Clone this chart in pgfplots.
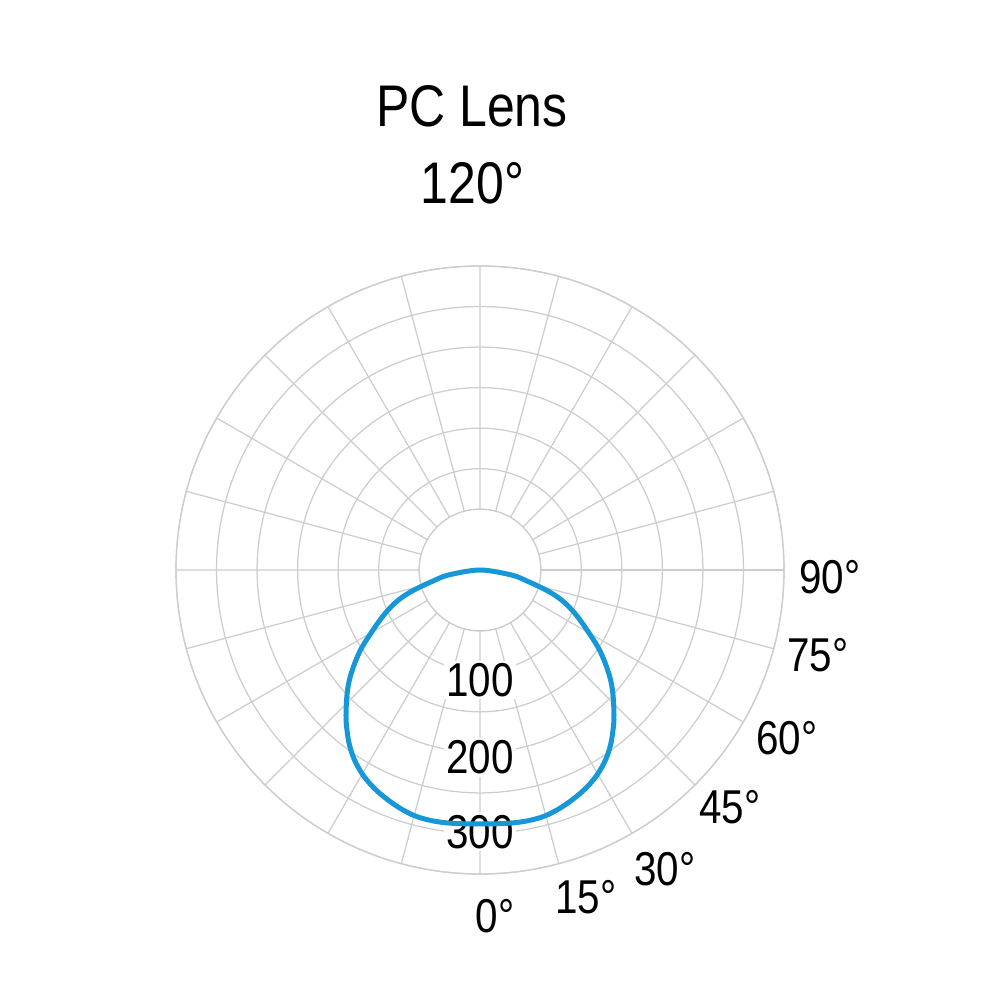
\documentclass[border=0pt]{standalone}
\usepackage{fontspec}
\setmainfont{Liberation Sans}[FakeStretch=0.85]
\usepackage{pgfplots}
\pgfplotsset{compat=1.18}
\usepgfplotslibrary{polar}
\definecolor{gridgray}{RGB}{205,205,205}
\definecolor{curveblue}{RGB}{22,152,216}
\newcommand\ttl{\fontsize{23.5}{28}\selectfont}
\newcommand\lab{\fontsize{19}{23}\selectfont}
% luminous intensity curve, Cartesian form (x to the right, y up), same units as the radial axis
\pgfplotstableread{
x y
0 -313.3
29.6 -312.7
54.3 -310.2
76.5 -304.7
95.0 -296.0
113.5 -283.7
130.8 -268.9
144.3 -252.9
154.8 -234.4
161.0 -215.9
164.1 -197.4
165.3 -178.9
163.4 -148.0
157.9 -124.6
148.0 -99.9
135.7 -79.6
119.6 -56.7
104.8 -40.7
90.0 -29.6
74.0 -21.0
58.0 -13.6
43.2 -7.4
24.7 -3.1
12.3 -1.0
0 0
-12.3 -1.0
-24.7 -3.1
-43.2 -7.4
-58.0 -13.6
-74.0 -21.0
-90.0 -29.6
-104.8 -40.7
-119.6 -56.7
-135.7 -79.6
-148.0 -99.9
-157.9 -124.6
-163.4 -148.0
-165.3 -178.9
-164.1 -197.4
-161.0 -215.9
-154.8 -234.4
-144.3 -252.9
-130.8 -268.9
-113.5 -283.7
-95.0 -296.0
-76.5 -304.7
-54.3 -310.2
-29.6 -312.7
0 -313.3
}\curve
\begin{document}
\begin{tikzpicture}
\begin{polaraxis}[
  set layers,
  scale only axis, width=243.2pt, height=243.2pt,
  xmin=0, xmax=360, ymin=0, ymax=375,
  xtick={0,15,...,345}, ytick={75,125,...,375},
  xticklabels={}, yticklabels={},
  grid=major,
  major grid style={gridgray, line width=0.5pt},
  axis line style={gridgray, line width=0.5pt},
  major tick length=0pt,
  clip=false,
]
\coordinate (C) at (axis cs:0,0);
\draw[gridgray, fill=white, line width=0.5pt] (axis cs:0,0) circle[radius=24.32pt];
\node[font=\lab, fill=white, inner sep=1pt] at (axis cs:-90,135.7) {100};
\node[font=\lab, fill=white, inner sep=1pt] at (axis cs:-90,231.3) {200};
\node[font=\lab, fill=white, inner sep=1pt] at (axis cs:-90,322.8) {300};
\node[font=\lab] at (axis cs:-87.5,427.8) {0°};
\node[font=\lab] at (axis cs:-72.1,424.6) {15°};
\node[font=\lab] at (axis cs:-58.3,433.7) {30°};
\node[font=\lab] at (axis cs:-43.5,425.3) {45°};
\node[font=\lab] at (axis cs:-28.7,431.7) {60°};
\node[font=\lab] at (axis cs:-14.1,429.9) {75°};
\node[font=\lab] at (axis cs:-1.1,431.7) {90°};
\end{polaraxis}
\begin{axis}[
  at={(C)}, anchor=origin,
  scale only axis, width=243.2pt, height=243.2pt,
  xmin=-375, xmax=375, ymin=-375, ymax=375,
  hide axis, clip=false,
]
\addplot[curveblue, line width=2pt, smooth, tension=0.6] table[x=x, y=y] {\curve};
\end{axis}
\path (C) ++(-3.2pt,177.2pt) node[anchor=base, font=\ttl] {PC Lens};
\path (C) ++(-3pt,146.4pt) node[anchor=base, font=\ttl] {120°};
\path (C) +(-192pt,228pt) rectangle +(208pt,-172pt);
\end{tikzpicture}
\end{document}
